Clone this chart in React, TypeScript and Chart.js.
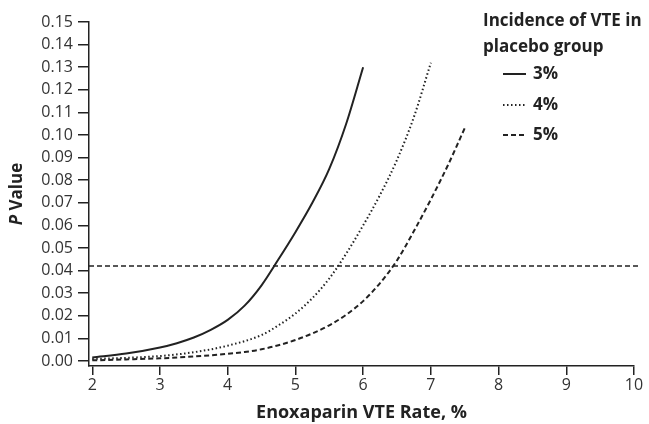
import { useEffect, useRef } from 'react';
import { Chart, registerables } from 'chart.js';

Chart.register(...registerables);

const xTickValues = [2, 3, 4, 5, 6, 7, 8, 9, 10];
const yTickValues = [0, 0.01, 0.02, 0.03, 0.04, 0.05, 0.06, 0.07, 0.08, 0.09, 0.1, 0.11, 0.12, 0.13, 0.14, 0.15];

const seriesLabels = ['3%', '4%', '5%'];

const rate3X = [2, 2.5, 3, 3.25, 3.5, 3.75, 4, 4.25, 4.5, 4.75, 5, 5.25, 5.5, 5.75, 6];
const rate3P = [0.0016, 0.0033, 0.006, 0.0079, 0.0104, 0.0138, 0.0182, 0.0245, 0.0335, 0.045, 0.057, 0.07, 0.085, 0.105, 0.13];

const rate4X = [2, 2.5, 3, 3.5, 4, 4.5, 4.75, 5, 5.25, 5.5, 5.75, 6, 6.25, 6.5, 6.75, 7];
const rate4P = [0.0009, 0.0014, 0.0022, 0.0039, 0.0068, 0.0115, 0.0158, 0.021, 0.0278, 0.0365, 0.0475, 0.06, 0.0735, 0.089, 0.108, 0.132];

const rate5X = [2, 2.5, 3, 3.5, 4, 4.25, 4.5, 4.75, 5, 5.25, 5.5, 5.75, 6, 6.25, 6.5, 6.75, 7, 7.25, 7.5];
const rate5P = [0.0003, 0.0007, 0.0012, 0.002, 0.0032, 0.004, 0.0052, 0.007, 0.0093, 0.0122, 0.0158, 0.0205, 0.0265, 0.0345, 0.0445, 0.0575, 0.0715, 0.0865, 0.103];

const thresholdX = [1.952, 10.1];
const thresholdP = [0.042, 0.042];

const INK = '#222222';
const FONT = "'Open Sans', sans-serif";

const toPoints = (xs: number[], ys: number[]) => xs.map((x, i) => ({ x, y: ys[i] }));

const overlayPlugin = {
  id: 'overlay',
  afterDraw(chart: any) {
    const ctx = chart.ctx as CanvasRenderingContext2D;
    const area = chart.chartArea;
    ctx.save();
    ctx.fillStyle = INK;
    ctx.translate(17, (area.top + area.bottom) / 2);
    ctx.rotate(-Math.PI / 2);
    ctx.textBaseline = 'middle';
    ctx.font = `italic bold 17px ${FONT}`;
    const pW = ctx.measureText('P').width;
    ctx.font = `bold 17px ${FONT}`;
    const restW = ctx.measureText(' Value').width;
    const startX = -(pW + restW) / 2;
    ctx.textAlign = 'left';
    ctx.font = `italic bold 17px ${FONT}`;
    ctx.fillText('P', startX, 0);
    ctx.font = `bold 17px ${FONT}`;
    ctx.fillText(' Value', startX + pW, 0);
    ctx.restore();

    ctx.save();
    ctx.fillStyle = INK;
    ctx.strokeStyle = INK;
    ctx.font = `bold 17px ${FONT}`;
    ctx.textBaseline = 'middle';
    ctx.textAlign = 'left';
    ctx.fillText('Incidence of VTE in', 483, 21);
    ctx.fillText('placebo group', 483, 47);
    const dashes = [[], [1.5, 2.5], [5, 3]];
    const rows = [74, 105, 135];
    seriesLabels.forEach((lab, i) => {
      ctx.beginPath();
      ctx.setLineDash(dashes[i]);
      ctx.lineWidth = 2;
      ctx.moveTo(503, rows[i]);
      ctx.lineTo(526, rows[i]);
      ctx.stroke();
      ctx.setLineDash([]);
      ctx.fillText(lab, 533, rows[i]);
    });
    ctx.restore();
  },
};

export default function App() {
  const canvasRef = useRef<HTMLCanvasElement | null>(null);

  useEffect(() => {
    if (!canvasRef.current) return;
    const chart = new Chart(canvasRef.current, {
      type: 'line',
      data: {
        datasets: [
          {
            label: seriesLabels[0],
            data: toPoints(rate3X, rate3P),
            borderColor: INK,
            borderWidth: 2,
            pointRadius: 0,
            cubicInterpolationMode: 'monotone',
            fill: false,
          },
          {
            label: seriesLabels[1],
            data: toPoints(rate4X, rate4P),
            borderColor: INK,
            borderWidth: 2,
            borderDash: [1.5, 2.5],
            pointRadius: 0,
            cubicInterpolationMode: 'monotone',
            fill: false,
          },
          {
            label: seriesLabels[2],
            data: toPoints(rate5X, rate5P),
            borderColor: INK,
            borderWidth: 2,
            borderDash: [5, 3],
            pointRadius: 0,
            cubicInterpolationMode: 'monotone',
            fill: false,
          },
          {
            label: 'threshold',
            data: toPoints(thresholdX, thresholdP),
            borderColor: INK,
            borderWidth: 1.5,
            borderDash: [5, 3],
            pointRadius: 0,
            fill: false,
            clip: false,
          } as any,
        ],
      },
      options: {
        responsive: false,
        animation: false,
        layout: { padding: { left: 0, top: 22, right: 15, bottom: 0 } },
        plugins: {
          legend: { display: false },
          tooltip: { enabled: false },
          title: { display: false },
        },
        scales: {
          x: {
            type: 'linear',
            min: 1.952,
            max: 10,
            afterBuildTicks: (scale: any) => {
              scale.ticks = xTickValues.map((v) => ({ value: v }));
            },
            afterFit: (scale: any) => {
              scale.height = 58;
            },
            ticks: {
              color: '#333',
              font: { family: FONT, size: 16 },
              padding: 1,
              maxRotation: 0,
              autoSkip: false,
              callback: (v: any) => String(v),
            },
            grid: { drawOnChartArea: false, drawTicks: true, tickLength: 9, color: INK, lineWidth: 1.5 },
            border: { display: true, color: INK, width: 1.5 },
            title: {
              display: true,
              text: 'Enoxaparin VTE Rate, %',
              color: INK,
              font: { family: FONT, size: 18, weight: 'bold' },
              padding: { top: 0, bottom: 0 },
            },
          },
          y: {
            type: 'linear',
            min: -0.0022,
            max: 0.15,
            afterBuildTicks: (scale: any) => {
              scale.ticks = yTickValues.map((v) => ({ value: v }));
            },
            afterFit: (scale: any) => {
              scale.width = 89;
            },
            ticks: {
              color: '#333',
              font: { family: FONT, size: 16 },
              padding: 5,
              autoSkip: false,
              callback: (v: any) => Number(v).toFixed(2),
            },
            grid: { drawOnChartArea: false, drawTicks: true, tickLength: 11, color: INK, lineWidth: 1.5 },
            border: { display: true, color: INK, width: 1.5 },
          },
        },
      },
      plugins: [overlayPlugin],
    });
    return () => chart.destroy();
  }, []);

  return (
    <div style={{ position: 'absolute', left: 0, top: 0, width: 649, height: 424, background: '#fff' }}>
      <canvas ref={canvasRef} width={649} height={424} style={{ display: 'block' }} />
    </div>
  );
}
